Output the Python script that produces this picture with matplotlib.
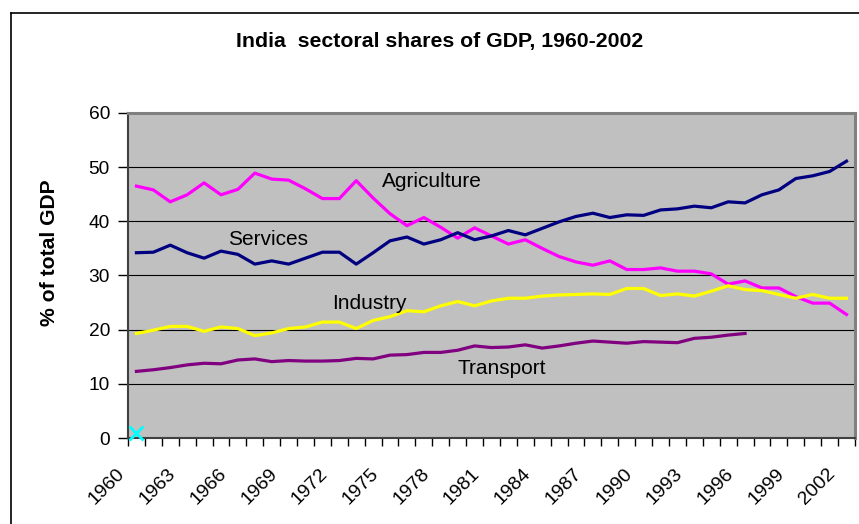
import matplotlib
matplotlib.use('Agg')
import matplotlib.pyplot as plt
import matplotlib.transforms as mtransforms
from matplotlib.lines import Line2D

plt.rcParams['font.family'] = ['Liberation Sans', 'DejaVu Sans']

years = list(range(1960, 2003))
agriculture = [46.5, 45.8, 43.6, 44.9, 47.1, 44.9, 45.9, 48.9, 47.8, 47.6,
               46.0, 44.2, 44.2, 47.5, 44.3, 41.4, 39.2, 40.7, 38.9, 36.9,
               38.8, 37.3, 35.8, 36.6, 35.0, 33.5, 32.5, 31.9, 32.7, 31.1,
               31.1, 31.4, 30.8, 30.8, 30.3, 28.4, 29.0, 27.7, 27.7, 26.1,
               24.9, 24.9, 22.8]
services = [34.2, 34.3, 35.6, 34.2, 33.2, 34.5, 33.9, 32.1, 32.7, 32.1,
            33.2, 34.3, 34.3, 32.1, 34.2, 36.4, 37.1, 35.8, 36.6, 37.9,
            36.6, 37.3, 38.3, 37.5, 38.7, 39.9, 40.9, 41.5, 40.7, 41.2,
            41.1, 42.1, 42.3, 42.8, 42.5, 43.6, 43.4, 44.9, 45.8, 47.9,
            48.4, 49.2, 51.1]
industry = [19.3, 19.9, 20.6, 20.6, 19.7, 20.5, 20.2, 18.9, 19.4, 20.2,
            20.5, 21.4, 21.4, 20.2, 21.7, 22.4, 23.5, 23.3, 24.4, 25.2,
            24.4, 25.3, 25.8, 25.8, 26.2, 26.4, 26.5, 26.6, 26.5, 27.6,
            27.6, 26.3, 26.6, 26.2, 27.1, 28.1, 27.4, 27.2, 26.5, 25.8,
            26.5, 25.8, 25.8]
# transport series stops in 1996
transport = [12.3, 12.6, 13.0, 13.5, 13.8, 13.7, 14.4, 14.6, 14.1, 14.3,
             14.2, 14.2, 14.3, 14.7, 14.6, 15.3, 15.4, 15.8, 15.8, 16.2,
             17.0, 16.7, 16.8, 17.2, 16.6, 17.0, 17.5, 17.9, 17.7, 17.5,
             17.8, 17.7, 17.6, 18.4, 18.6, 19.0, 19.3]
stray_year = [1960]
stray_value = [0.9]

label_years = list(range(1960, 2003, 3))
y_ticks = [0, 10, 20, 30, 40, 50, 60]

fig = plt.figure(figsize=(8.59, 5.24), dpi=100)
ax = fig.add_axes([0.149, 0.1641, 0.8463, 0.6203])
ax.set_facecolor('#C0C0C0')

for y in y_ticks[1:-1]:
    ax.axhline(y, color='black', lw=0.8, zorder=1)

ax.plot(years, agriculture, color='#FF00FF', lw=2.3, zorder=3)
ax.plot(years, services, color='#000080', lw=2.3, zorder=3)
ax.plot(years, industry, color='#FFFF00', lw=2.3, zorder=3)
ax.plot(years[:len(transport)], transport, color='#800080', lw=2.3, zorder=3)
ax.plot(stray_year, stray_value, marker='x', color='#00FFFF', ms=10, mew=2,
        ls='none', zorder=4, clip_on=False)

ax.text(1977.5, 47.3, 'Agriculture', fontsize=15, ha='center', va='center')
ax.text(1967.8, 36.7, 'Services', fontsize=15, ha='center', va='center')
ax.text(1973.8, 24.9, 'Industry', fontsize=15, ha='center', va='center')
ax.text(1981.6, 12.9, 'Transport', fontsize=15, ha='center', va='center')

ax.set_xlim(1959.5, 2002.5)
ax.set_ylim(0, 60)

# tick marks between categories, labels on category centres
ax.set_xticks([1959.5 + i for i in range(44)])
ax.set_xticklabels([])
ax.tick_params(axis='x', which='major', length=6, width=1, color='black',
               direction='out')
ax.set_xticks(label_years, minor=True)
ax.set_xticklabels([str(y) for y in label_years], minor=True, rotation=45,
                   ha='right', fontsize=14)
ax.tick_params(axis='x', which='minor', length=0, pad=19.5)
shift = mtransforms.ScaledTranslation(-8 / 100, 0, fig.dpi_scale_trans)
for lab in ax.get_xticklabels(minor=True):
    lab.set_transform(lab.get_transform() + shift)

ax.set_yticks(y_ticks)
ax.set_yticklabels([str(y) for y in y_ticks], fontsize=13.8)
ax.tick_params(axis='y', length=7, width=1, color='black', pad=6)

ax.spines['top'].set_color('#808080')
ax.spines['right'].set_color('#808080')
ax.spines['top'].set_linewidth(2.2)
ax.spines['right'].set_linewidth(2.2)
ax.spines['left'].set_color('#404040')
ax.spines['bottom'].set_color('#404040')
ax.spines['left'].set_linewidth(1.5)
ax.spines['bottom'].set_linewidth(1.5)

fig.text(440 / 859, 1 - 42 / 524, 'India  sectoral shares of GDP, 1960-2002',
         fontsize=15.3, fontweight='bold', ha='center', va='center')
fig.text(50 / 859, 1 - 253 / 524, '% of total GDP', fontsize=15.2,
         fontweight='bold', rotation=90, ha='center', va='center')

# chart area frame (only left and top edges fall inside the image)
fig.add_artist(Line2D([10.5 / 859, 10.5 / 859], [0, 1 - 12.5 / 524],
                      color='black', lw=1.2, transform=fig.transFigure))
fig.add_artist(Line2D([10.5 / 859, 1], [1 - 12.5 / 524, 1 - 12.5 / 524],
                      color='black', lw=1.2, transform=fig.transFigure))

fig.savefig('out.png', dpi=100)
